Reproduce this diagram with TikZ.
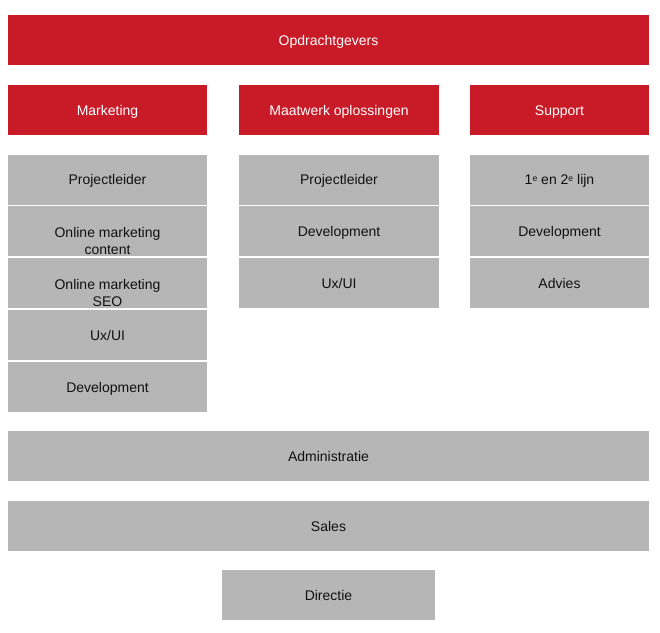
\documentclass[tikz,border=0pt]{standalone}
\usepackage{fontspec}
\setmainfont{Liberation Sans}
\definecolor{bred}{HTML}{C91A27}
\definecolor{bgray}{HTML}{B6B6B6}
\definecolor{btext}{HTML}{111111}
\begin{document}
\begin{tikzpicture}[x=0.75pt,y=-0.75pt,
  every node/.style={font=\fontsize{10.5}{12.75}\selectfont},
  redbox/.style={fill=bred,draw=none,text=white,inner sep=0pt,minimum height={50*0.75pt},text height=0.82em,text depth=0pt},
  graybox/.style={fill=bgray,draw=none,text=btext,inner sep=0pt,minimum height={50*0.75pt},text height=0.82em,text depth=0pt},
  txt/.style={text=btext,inner sep=0pt,align=center}]
\useasboundingbox (0,0) rectangle (660,632);
% top
\node[redbox,minimum width={641*0.75pt}] (opd) at (328.5,40) {Opdrachtgevers};
% departments
\node[redbox,minimum width={199*0.75pt}] (mkt) at (107.5,110) {Marketing};
\node[redbox,minimum width={200*0.75pt}] (maw) at (339,110) {Maatwerk oplossingen};
\node[redbox,minimum width={179*0.75pt}] (sup) at (559.5,110) {Support};
% Marketing column
\node[graybox,minimum width={199*0.75pt}] (m1) at (107.5,179.5) {Projectleider};
\node[graybox,minimum width={199*0.75pt}] (m2) at (107.5,231) {};
\node[txt,anchor=north] (m2t) at ([yshift=3.2pt]m2.center) {Online marketing\\content};
\node[graybox,minimum width={199*0.75pt}] (m3) at (107.5,283) {};
\node[txt,anchor=north] (m3t) at ([yshift=3.2pt]m3.center) {Online marketing\\SEO};
\node[graybox,minimum width={199*0.75pt}] (m4) at (107.5,335) {Ux/UI};
\node[graybox,minimum width={199*0.75pt},minimum height={49.5*0.75pt}] (m5) at (107.5,386.75) {Development};
% Maatwerk column
\node[graybox,minimum width={200*0.75pt}] (w1) at (339,179.5) {Projectleider};
\node[graybox,minimum width={200*0.75pt}] (w2) at (339,231) {Development};
\node[graybox,minimum width={200*0.75pt}] (w3) at (339,283) {Ux/UI};
% Support column
\node[graybox,minimum width={179*0.75pt}] (s1) at (559.5,179.5) {1\raisebox{0.45ex}{\fontsize{6.5}{7}\selectfont e} en 2\raisebox{0.45ex}{\fontsize{6.5}{7}\selectfont e} lijn};
\node[graybox,minimum width={179*0.75pt}] (s2) at (559.5,231) {Development};
\node[graybox,minimum width={179*0.75pt}] (s3) at (559.5,283) {Advies};
% bottom rows
\node[graybox,minimum width={641*0.75pt},minimum height={49.5*0.75pt}] (adm) at (328.5,455.75) {Administratie};
\node[graybox,minimum width={641*0.75pt},minimum height={49.5*0.75pt}] (sal) at (328.5,525.75) {Sales};
\node[graybox,minimum width={213*0.75pt},minimum height={49.5*0.75pt}] (dir) at (328.5,594.75) {Directie};
\end{tikzpicture}
\end{document}
